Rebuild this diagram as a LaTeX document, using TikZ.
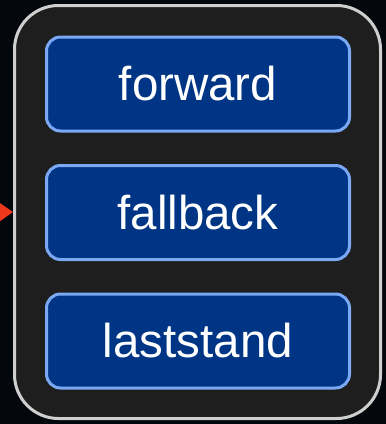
\documentclass[tikz,border=0pt]{standalone}
\usepackage{fontspec}
\setmainfont{Liberation Sans}
\usetikzlibrary{arrows.meta}
\definecolor{bgc}{HTML}{04080C}
\definecolor{panel}{HTML}{1E1E1E}
\definecolor{panelline}{HTML}{CFCFCF}
\definecolor{boxfill}{HTML}{003585}
\definecolor{boxline}{HTML}{7AA8F2}
\definecolor{arrowred}{HTML}{F0381C}
\tikzset{
  stepbox/.style={draw=boxline, line width=3pt, fill=boxfill, rounded corners=14pt,
    minimum width=303pt, minimum height=94pt, text=white, font=\fontsize{47.5}{52}\selectfont, inner sep=0pt},
  container/.style={draw=panelline, line width=3pt, fill=panel, rounded corners=44pt,
    minimum width=366pt, minimum height=413pt, inner sep=0pt},
}
\begin{document}
\begin{tikzpicture}[x=1pt,y=-1pt]
\fill[bgc] (0,0) rectangle (386,424);
\useasboundingbox (0,0) rectangle (386,424);
\node[container] (group) at (197.5,212) {};
\node[stepbox] (forward) at (198,84) {forward};
\node[stepbox] (fallback) at (198,212.5) {fallback};
\node[stepbox] (laststand) at (198,341) {laststand};
\coordinate (src) at (-40,212.5);
\draw[arrowred, line width=2pt, -{Triangle[length=14pt,width=19pt]}] (src) -- (group.west);
\end{tikzpicture}
\end{document}
